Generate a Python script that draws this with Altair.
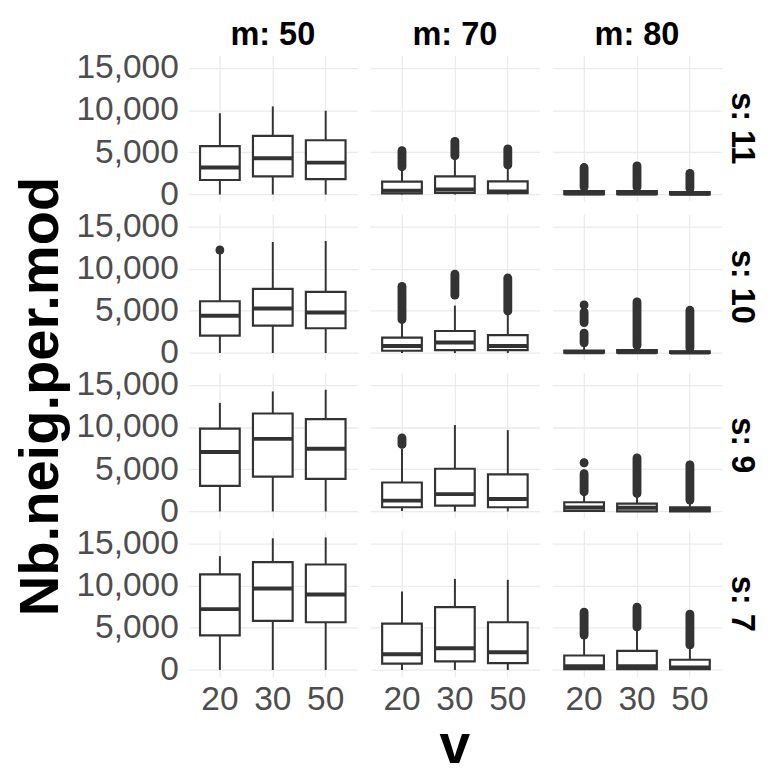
import altair as alt
import pandas as pd

# ---- data ----
s_levels = [11, 10, 9, 7]
m_levels = [50, 70, 80]
v_levels = [20, 30, 50]

box_s = [11]*9 + [10]*9 + [9]*9 + [7]*9
box_m = ([50]*3 + [70]*3 + [80]*3) * 4
box_v = [20, 30, 50] * 12
box_lo = [0, 0, 0, 0, 0, 0, 0, 0, 0,
          0, 0, 0, 0, 0, 0, 0, 0, 0,
          0, 0, 0, 50, 0, 0, 0, 0, 0,
          0, 0, 0, 0, 0, 0, 0, 0, 0]
box_q1 = [1720, 2150, 1830, 120, 200, 150, 50, 50, 20,
          2060, 3250, 2930, 270, 350, 350, 30, 30, 20,
          3040, 4130, 3860, 500, 700, 500, 70, 20, 20,
          4090, 5810, 5650, 750, 1020, 820, 100, 100, 100]
box_med = [3200, 4290, 3780, 450, 600, 350, 120, 120, 80,
           4410, 5280, 4800, 820, 1240, 820, 100, 100, 50,
           7050, 8600, 7440, 1290, 2060, 1470, 470, 450, 250,
           7210, 9660, 8930, 1870, 2570, 2100, 430, 430, 300]
box_q3 = [5730, 6940, 6430, 1520, 2150, 1560, 400, 400, 300,
          6130, 7600, 7240, 1830, 2610, 2110, 300, 350, 200,
          9820, 11610, 10950, 3430, 5060, 4400, 1090, 930, 500,
          11330, 12780, 12500, 5490, 7440, 5650, 1710, 2270, 1210]
box_hi = [9630, 10440, 9930, 3100, 4300, 3240, 800, 800, 600,
          11900, 13150, 13270, 3560, 5620, 4570, 700, 750, 500,
          12860, 14220, 14420, 7400, 10250, 9630, 1940, 1870, 1200,
          13480, 15600, 15700, 9310, 10790, 10680, 3740, 4720, 2570]

# outlier runs (lowest and highest outlier of each dense run)
out_s = [11, 11, 11, 11, 11, 11,
         10, 10, 10, 10, 10, 10, 10, 10, 10,
         9, 9, 9, 9, 9,
         7, 7, 7]
out_m = [70, 70, 70, 80, 80, 80,
         50, 70, 70, 70, 80, 80, 80, 80, 80,
         70, 80, 80, 80, 80,
         80, 80, 80]
out_v = [20, 30, 50, 20, 30, 50,
         20, 20, 30, 50, 20, 20, 20, 30, 50,
         20, 20, 20, 30, 50,
         20, 30, 50]
out_lo = [3300, 4600, 3500, 900, 900, 700,
          12200, 3980, 6850, 4980, 1200, 3600, 5700, 900, 600,
          7950, 2340, 5770, 2140, 1360,
          4140, 5100, 2970]
out_hi = [5200, 6300, 5400, 3200, 3400, 2500,
          12200, 7900, 9350, 8880, 2350, 4850, 5700, 6050, 5060,
          8700, 4480, 5770, 6350, 5530,
          6860, 7440, 6620]

boxes = pd.DataFrame({"s": box_s, "m": box_m, "v": box_v, "lo": box_lo,
                      "q1": box_q1, "med": box_med, "q3": box_q3, "hi": box_hi})
outs = pd.DataFrame({"s": out_s, "m": out_m, "v": out_v, "olo": out_lo, "ohi": out_hi})
df = pd.concat([boxes, outs], ignore_index=True)

DARK = "#333333"
GRID = "#EBEBEB"
FONT = "Liberation Sans"

yscale = alt.Scale(domain=[-780, 16480], nice=False, zero=False)
xscale = alt.Scale(paddingInner=0.25, paddingOuter=0.225)

xenc = alt.X("v:O", scale=xscale, title=None,
             axis=alt.Axis(bandPosition=0.5, grid=True, gridColor=GRID, gridWidth=1.3,
                           ticks=False, domain=False, labelAngle=0, labelFontSize=34,
                           labelColor="#4D4D4D", labelFont=FONT, labelPadding=6))
yaxis = alt.Axis(values=[0, 2500, 5000, 7500, 10000, 12500, 15000],
                 labelExpr="datum.value % 5000 == 0 ? format(datum.value, ',') : ''",
                 grid=True, gridColor=GRID, gridWidth=1.3, ticks=False, domain=False,
                 labelFontSize=34, labelColor="#4D4D4D", labelFont=FONT, labelPadding=10)

whisk = alt.Chart().mark_rule(color=DARK, strokeWidth=2, opacity=1).encode(
    x=xenc,
    y=alt.Y("lo:Q", scale=yscale, axis=yaxis, title=None),
    y2="hi:Q",
).transform_filter("isValid(datum.q1)")

box = alt.Chart().mark_bar(fill="white", stroke=DARK, strokeWidth=2.2, opacity=1).encode(
    x=xenc, y=alt.Y("q1:Q", scale=yscale), y2="q3:Q"
).transform_filter("isValid(datum.q1)")

med = alt.Chart().mark_tick(color=DARK, thickness=4, size=40, orient="horizontal",
                            opacity=1).encode(
    x=xenc, y=alt.Y("med:Q", scale=yscale)
).transform_filter("isValid(datum.q1)")

orule = alt.Chart().mark_rule(color=DARK, strokeWidth=9, strokeCap="round", opacity=1).encode(
    x=xenc, y=alt.Y("olo:Q", scale=yscale), y2="ohi:Q"
).transform_filter("isValid(datum.olo)")

opt_lo = alt.Chart().mark_circle(color=DARK, size=64, opacity=1).encode(
    x=xenc, y=alt.Y("olo:Q", scale=yscale)
).transform_filter("isValid(datum.olo)")

opt_hi = alt.Chart().mark_circle(color=DARK, size=64, opacity=1).encode(
    x=xenc, y=alt.Y("ohi:Q", scale=yscale)
).transform_filter("isValid(datum.olo)")

layered = alt.layer(whisk, box, med, orule, opt_lo, opt_hi, data=df).properties(
    width=172, height=148)

chart = layered.facet(
    row=alt.Row("s:O", sort=s_levels, title=None,
                header=alt.Header(labelExpr="'s: ' + datum.value", labelOrient="right",
                                  labelAngle=90, labelFontSize=33, labelFontWeight="bold",
                                  labelFont=FONT, labelColor="black", labelPadding=4,
                                  labelAlign="center", labelBaseline="top")),
    column=alt.Column("m:O", sort=m_levels, title="v",
                      header=alt.Header(labelExpr="'m: ' + datum.value", labelFontSize=33,
                                        labelFontWeight="bold", labelFont=FONT,
                                        labelColor="black", labelPadding=4,
                                        titleOrient="bottom", titleFontSize=56,
                                        titleFont=FONT, titleFontWeight="bold",
                                        titleColor="black", titlePadding=-6)),
    spacing=13,
).properties(
    title=alt.TitleParams(text="Nb.neig.per.mod", orient="left", anchor="middle",
                          fontSize=57, font=FONT, fontWeight="bold", color="black",
                          offset=6, frame="bounds")
).configure(background="white").configure_view(strokeWidth=0, stroke="transparent")

chart.save("out.html", embed_options={"renderer": "svg", "actions": False})
